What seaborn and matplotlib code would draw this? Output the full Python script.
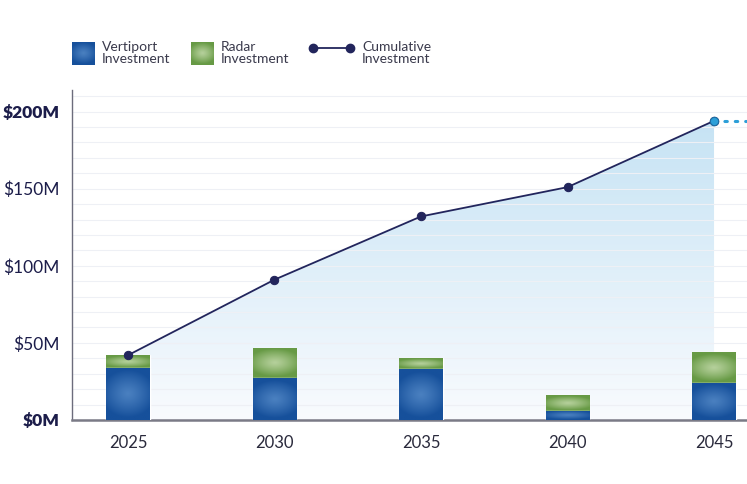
import numpy as np
import matplotlib.pyplot as plt
import matplotlib.colors as mcolors
from matplotlib.lines import Line2D
import seaborn as sns

# Chart data ($M)
years = ['2025', '2030', '2035', '2040', '2045']
vertiport = [34, 27, 33, 6, 24]
radar = [8, 20, 7, 10, 20]
cumulative = [42, 91, 132, 151, 194]
y_ticks = [0, 50, 100, 150, 200]
y_tick_labels = [r'\$0M', r'\$50M', r'\$100M', r'\$150M', r'\$200M']

BLUE_BASE, BLUE_LIGHT = '#16509b', '#4a80c0'
GREEN_BASE, GREEN_LIGHT = '#679a45', '#b5d09b'
NAVY = '#22255c'
LIGHTBLUE = '#2c9fd8'

sns.set_theme(style='white')
plt.rcParams['font.family'] = ['Lato', 'DejaVu Sans']


def radial_img(base, light, n=80):
    yy, xx = np.mgrid[-1:1:n * 1j, -1:1:n * 1j]
    t = np.clip(np.sqrt((xx * 0.8) ** 2 + (yy * 1.1) ** 2), 0, 1) ** 1.2
    b = np.array(mcolors.to_rgb(base))
    l = np.array(mcolors.to_rgb(light))
    return l * (1 - t[..., None]) + b * t[..., None]


def vertical_img(top, bottom, n=200):
    t = np.linspace(0, 1, n)[:, None, None]
    tp = np.array(mcolors.to_rgb(top))
    bt = np.array(mcolors.to_rgb(bottom))
    return tp * (1 - t) + bt * t * np.ones((1, 2, 1))


fig = plt.figure(figsize=(7.47, 4.84), dpi=100)
ax = fig.add_axes([72 / 747, 1 - 420 / 484, 1 - 72 / 747, 330 / 484])

total = [v + r for v, r in zip(vertiport, radar)]
xpos = np.arange(len(years))

# stacked bars: total (radar on top) then vertiport
sns.barplot(x=years, y=total, color=GREEN_BASE, width=0.3, saturation=1, ax=ax, zorder=2)
sns.barplot(x=years, y=vertiport, color=BLUE_BASE, width=0.3, saturation=1, ax=ax, zorder=3)
green_bars = ax.patches[:len(years)]
blue_bars = ax.patches[len(years):2 * len(years)]
g_img = radial_img(GREEN_BASE, GREEN_LIGHT)
b_img = radial_img(BLUE_BASE, BLUE_LIGHT)
for p, v, t in zip(green_bars, vertiport, total):
    im = ax.imshow(g_img, extent=(p.get_x(), p.get_x() + p.get_width(), v, t),
                   aspect='auto', zorder=2.1, interpolation='bilinear')
    im.set_clip_path(p)
for p in blue_bars:
    im = ax.imshow(b_img, extent=(p.get_x(), p.get_x() + p.get_width(), 0, p.get_height()),
                   aspect='auto', zorder=3.1, interpolation='bilinear')
    im.set_clip_path(p)

# gradient area under cumulative line
area = ax.fill_between(xpos, cumulative, 0, color='none', lw=0)
grad = ax.imshow(vertical_img('#c6e3f4', '#f9fbfe'),
                 extent=(0, len(years) - 1, 0, max(cumulative)),
                 aspect='auto', zorder=0.3, interpolation='bilinear')
grad.set_clip_path(area.get_paths()[0], transform=ax.transData)

# cumulative line
sns.lineplot(x=xpos, y=cumulative, color=NAVY, lw=1.3, marker='o', markersize=6,
             markeredgecolor=NAVY, ax=ax, zorder=5)
xmax = 4.225
ax.plot([xpos[-1], xmax], [cumulative[-1]] * 2, ls=(0, (0.8, 2.6)), color=LIGHTBLUE,
        lw=2.2, zorder=4, dash_capstyle='round')
ax.plot([xpos[-1]], [cumulative[-1]], 'o', color=LIGHTBLUE, markersize=6,
        markeredgecolor='#1f6fa5', markeredgewidth=0.8, zorder=6)

ax.set_xlim(-0.382, xmax)
ax.set_ylim(0, 214)
ax.set_yticks(y_ticks)
ax.set_yticks(np.arange(0, 215, 10), minor=True)
ax.set_yticklabels(y_tick_labels)
ax.grid(True, axis='y', which='both', color='#eef0f5', lw=0.8)
ax.set_axisbelow(True)
ax.tick_params(axis='y', which='both', length=0, pad=9, labelsize=12.5, labelcolor='#1c1d4a')
ax.tick_params(axis='x', length=0, pad=11, labelsize=12, labelcolor='#2a2a3c')
for lbl in ax.get_yticklabels():
    if lbl.get_text() in (r'\$0M', r'\$200M'):
        lbl.set_fontweight('heavy')
ax.set_xlabel('')
ax.set_ylabel('')
for s in ['top', 'right']:
    ax.spines[s].set_visible(False)
ax.spines['left'].set_color('#6c6c7c')
ax.spines['left'].set_linewidth(1.0)
ax.spines['bottom'].set_color('#7a7a86')
ax.spines['bottom'].set_linewidth(1.8)

# legend (drawn at figure level)
H = 484
W = 747
for x0, base, light in [(72, BLUE_BASE, BLUE_LIGHT), (191, GREEN_BASE, GREEN_LIGHT)]:
    lax = fig.add_axes([x0 / W, 1 - 65 / H, 23 / W, 23 / H])
    lax.imshow(radial_img(base, light), aspect='auto', interpolation='bilinear')
    lax.axis('off')
fig.add_artist(Line2D([313 / W, 350 / W], [1 - 48 / H] * 2, transform=fig.transFigure,
                      color=NAVY, lw=1.3, marker='o', markersize=6))
for x0, txt in [(102, 'Vertiport\nInvestment'), (221, 'Radar\nInvestment'),
                (362, 'Cumulative\nInvestment')]:
    fig.text(x0 / W, 1 - 53 / H, txt, ha='left', va='center', fontsize=10,
             color='#3a3a4c', linespacing=0.95)

fig.savefig('out.png', dpi=100)
